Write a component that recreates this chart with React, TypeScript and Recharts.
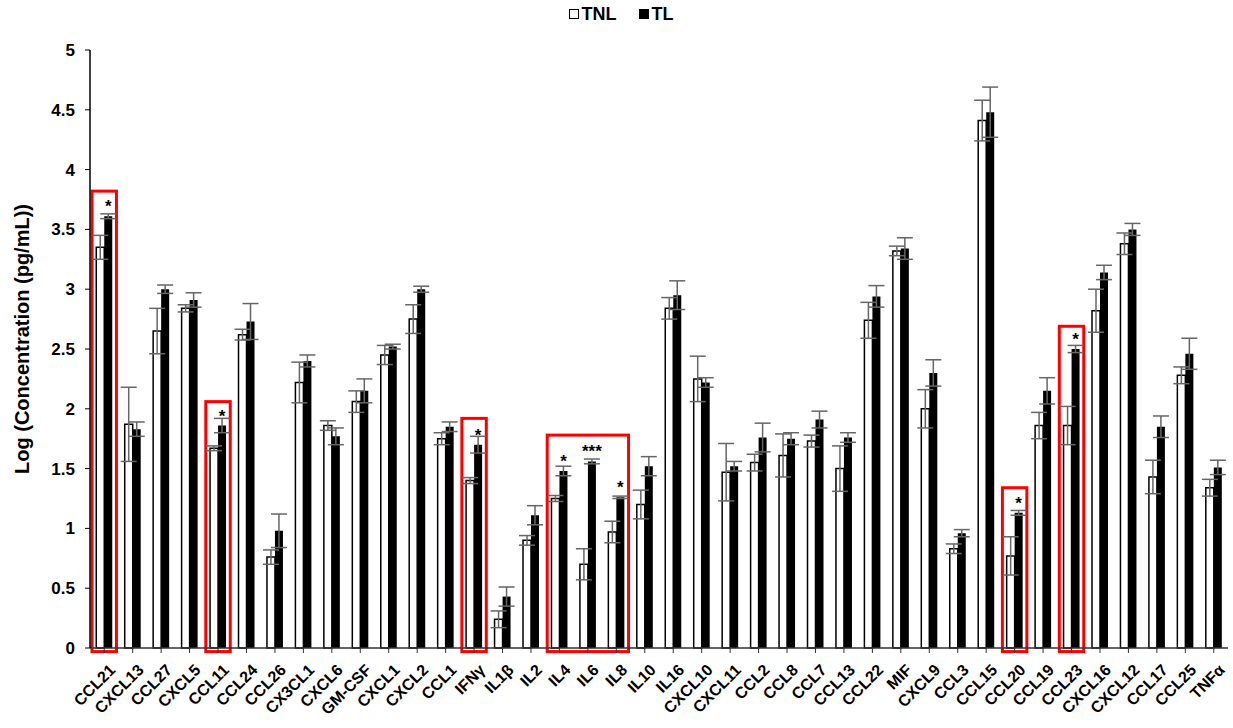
import { BarChart, Bar, XAxis, YAxis, ErrorBar, LabelList, Legend, ReferenceArea, Text } from 'recharts';

const FONT = '"Liberation Sans", Arial, sans-serif';

const cytokines = [
  'CCL21', 'CXCL13', 'CCL27', 'CXCL5', 'CCL11', 'CCL24', 'CCL26', 'CX3CL1', 'CXCL6', 'GM-CSF',
  'CXCL1', 'CXCL2', 'CCL1', 'IFNγ', 'IL1β', 'IL2', 'IL4', 'IL6', 'IL8', 'IL10',
  'IL16', 'CXCL10', 'CXCL11', 'CCL2', 'CCL8', 'CCL7', 'CCL13', 'CCL22', 'MIF', 'CXCL9',
  'CCL3', 'CCL15', 'CCL20', 'CCL19', 'CCL23', 'CXCL16', 'CXCL12', 'CCL17', 'CCL25', 'TNFα',
];

// log10 of mean concentration, TNL group
const tnlMean = [
  3.35, 1.87, 2.65, 2.84, 1.67, 2.62, 0.76, 2.22, 1.86, 2.06,
  2.45, 2.75, 1.75, 1.40, 0.24, 0.90, 1.25, 0.70, 0.97, 1.20,
  2.84, 2.25, 1.47, 1.55, 1.61, 1.73, 1.50, 2.74, 3.32, 2.00,
  0.83, 4.41, 0.77, 1.86, 1.86, 2.82, 3.38, 1.43, 2.28, 1.34,
];
const tnlErr = [
  0.10, 0.31, 0.19, 0.03, 0.02, 0.045, 0.06, 0.17, 0.04, 0.09,
  0.08, 0.12, 0.05, 0.025, 0.07, 0.04, 0.025, 0.13, 0.09, 0.12,
  0.09, 0.19, 0.24, 0.07, 0.18, 0.05, 0.19, 0.15, 0.04, 0.16,
  0.04, 0.17, 0.16, 0.11, 0.16, 0.18, 0.09, 0.14, 0.07, 0.07,
];

// log10 of mean concentration, TL group
const tlMean = [
  3.61, 1.83, 3.00, 2.91, 1.86, 2.73, 0.98, 2.40, 1.77, 2.15,
  2.52, 3.00, 1.85, 1.70, 0.43, 1.11, 1.48, 1.56, 1.26, 1.52,
  2.95, 2.22, 1.52, 1.76, 1.75, 1.91, 1.76, 2.94, 3.34, 2.30,
  0.96, 4.48, 1.13, 2.15, 2.50, 3.14, 3.50, 1.85, 2.46, 1.51,
];
const tlErr = [
  0.02, 0.06, 0.035, 0.06, 0.06, 0.15, 0.14, 0.05, 0.07, 0.10,
  0.02, 0.025, 0.04, 0.07, 0.08, 0.08, 0.04, 0.02, 0.01, 0.08,
  0.12, 0.04, 0.04, 0.12, 0.05, 0.07, 0.04, 0.09, 0.09, 0.11,
  0.03, 0.21, 0.02, 0.11, 0.03, 0.06, 0.05, 0.09, 0.13, 0.06,
];

// significance marks, TL vs TNL
const significance: [string, string][] = [
  ['CCL21', '*'], ['CCL11', '*'], ['IFNγ', '*'], ['IL4', '*'],
  ['IL6', '***'], ['IL8', '*'], ['CCL20', '*'], ['CCL23', '*'],
];

// red frames around significant groups: first category, last category, top value
const highlights: [string, string, number][] = [
  ['CCL21', 'CCL21', 3.82],
  ['CCL11', 'CCL11', 2.06],
  ['IFNγ', 'IFNγ', 1.92],
  ['IL4', 'IL8', 1.78],
  ['CCL20', 'CCL20', 1.34],
  ['CCL23', 'CCL23', 2.69],
];

const yTicks = [0, 0.5, 1, 1.5, 2, 2.5, 3, 3.5, 4, 4.5, 5];

const data = cytokines.map((name, i) => ({
  name,
  tnl: tnlMean[i],
  tnlErr: tnlErr[i],
  tl: tlMean[i],
  tlErr: tlErr[i],
  sig: significance.find((s) => s[0] === name)?.[1] ?? '',
}));

// slanted category label, right end pinned just below the tick
const renderCategoryTick = (props: any) => {
  const { x, y, payload } = props;
  return (
    <Text
      x={x + 4}
      y={y + 8}
      angle={-45}
      textAnchor="end"
      verticalAnchor="start"
      fontSize={16}
      fontWeight="bold"
      fontFamily={FONT}
      fill="#000"
    >
      {payload.value}
    </Text>
  );
};

function FrameShape({ x, y, width, height }: any) {
  return (
    <rect x={x + 2} y={y} width={width - 4} height={height} fill="none" stroke="#ff0000" strokeWidth={3} />
  );
}

function LegendContent() {
  const sq = (fill: string) => (
    <span
      style={{
        display: 'inline-block',
        width: 8,
        height: 8,
        background: fill,
        border: '1px solid #000',
        marginRight: 3,
        verticalAlign: 'middle',
        position: 'relative',
        top: -1,
      }}
    />
  );
  return (
    <div
      style={{
        height: 46,
        lineHeight: '20px',
        textAlign: 'center',
        fontFamily: FONT,
        fontWeight: 'bold',
        fontSize: 18,
        color: '#000',
        paddingLeft: 14,
      }}
    >
      {sq('#fff')}TNL
      <span style={{ display: 'inline-block', width: 22 }} />
      {sq('#000')}TL
    </div>
  );
}

export default function App() {
  return (
    <div style={{ position: 'absolute', left: 0, top: 0 }}>
      <BarChart
        width={1233}
        height={728}
        data={data}
        margin={{ top: 4, right: 5, bottom: 0, left: 0 }}
        barCategoryGap="22%"
        barGap={0}
      >
        <Legend verticalAlign="top" align="center" content={<LegendContent />} />
        <XAxis
          dataKey="name"
          interval={0}
          height={80}
          tickSize={5}
          tickMargin={2}
          tick={renderCategoryTick}
          tickLine={{ stroke: '#333' }}
          axisLine={{ stroke: '#333', strokeWidth: 1.5 }}
        />
        <YAxis
          width={90}
          domain={[0, 5]}
          ticks={yTicks}
          interval={0}
          tickSize={5}
          tickMargin={10}
          axisLine={{ stroke: '#000', strokeWidth: 1.5 }}
          tickLine={{ stroke: '#000' }}
          tick={{ fontSize: 17, fontWeight: 'bold', fill: '#000', fontFamily: FONT }}
          label={{
            value: 'Log (Concentration (pg/mL))',
            angle: -90,
            position: 'insideLeft',
            offset: 22,
            dy: -10,
            textAnchor: 'middle',
            style: { textAnchor: 'middle', fontSize: 20, fontWeight: 'bold', fill: '#000', fontFamily: FONT },
          }}
        />
        <Bar dataKey="tnl" name="TNL" fill="#fff" stroke="#000" strokeWidth={1.5} isAnimationActive={false}>
          <ErrorBar dataKey="tnlErr" width={8} stroke="#666" strokeWidth={1.5} />
        </Bar>
        <Bar dataKey="tl" name="TL" fill="#000" isAnimationActive={false}>
          <ErrorBar dataKey="tlErr" width={8} stroke="#666" strokeWidth={1.5} />
          <LabelList
            dataKey="sig"
            position="top"
            offset={4}
            style={{ fontSize: 17, fontWeight: 'bold', fill: '#000', fontFamily: FONT }}
          />
        </Bar>
        {highlights.map(([from, to, top]) => (
          <ReferenceArea
            key={from}
            x1={from}
            x2={to}
            y1={-0.03}
            y2={top}
            ifOverflow="visible"
            shape={<FrameShape />}
          />
        ))}
      </BarChart>
    </div>
  );
}
